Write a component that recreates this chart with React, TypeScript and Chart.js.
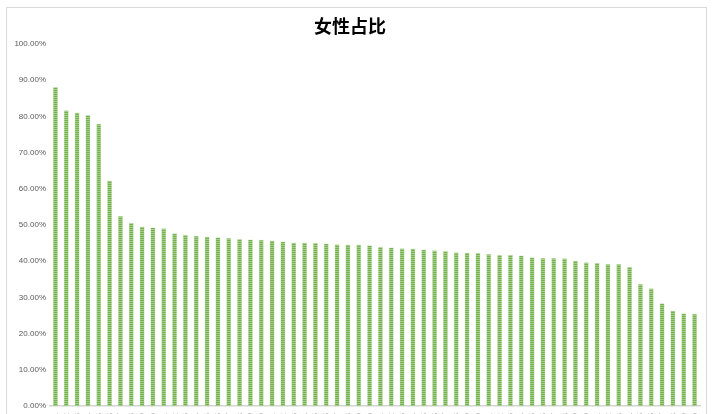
import React, { useEffect, useRef } from "react";
import { Chart, registerables } from "chart.js";

Chart.register(...registerables);

const TITLE = "女性占比";

const femaleShare: number[] = [
  88.15, 81.7, 81.1, 80.4, 78.0, 62.3, 52.5, 50.6, 49.6, 49.3,
  49.1, 47.7, 47.3, 47.0, 46.8, 46.6, 46.4, 46.1, 46.0, 45.9,
  45.7, 45.45, 45.2, 45.2, 45.1, 44.9, 44.7, 44.6, 44.6, 44.4,
  44.0, 43.8, 43.6, 43.5, 43.2, 43.0, 42.8, 42.5, 42.4, 42.3,
  42.0, 41.8, 41.8, 41.6, 41.1, 40.9, 40.9, 40.8, 40.2, 39.7,
  39.6, 39.2, 39.2, 38.5, 33.7, 32.5, 28.4, 26.4, 25.6, 25.5,
];

const categories: string[] = femaleShare.map((_, i) => "类别" + String(i + 1).padStart(2, "0"));

const yMin = 0;
const yMax = 100;
const yStep = 10;

function makePattern(): CanvasPattern | string {
  const c = document.createElement("canvas");
  c.width = 2;
  c.height = 2;
  const g = c.getContext("2d");
  if (!g) return "#8cbf6c";
  g.fillStyle = "#76b24f";
  g.fillRect(0, 0, 2, 1);
  g.fillStyle = "#a2cd86";
  g.fillRect(0, 1, 2, 1);
  const p = g.createPattern(c, "repeat");
  return p || "#8cbf6c";
}

export default function App() {
  const ref = useRef<HTMLCanvasElement | null>(null);

  useEffect(() => {
    document.body.style.margin = "0";
    document.body.style.overflow = "hidden";
    if (!ref.current) return;
    const pattern = makePattern();
    const chart = new Chart(ref.current, {
      type: "bar",
      data: {
        labels: categories,
        datasets: [
          {
            label: TITLE,
            data: femaleShare,
            backgroundColor: pattern as any,
            borderColor: "rgba(169,209,142,0.6)",
            borderWidth: 0.5,
            barPercentage: 0.46,
            categoryPercentage: 1,
          },
        ],
      },
      options: {
        animation: false,
        responsive: false,
        maintainAspectRatio: false,
        layout: { padding: { left: 0, right: 14, top: 0, bottom: 0 } },
        plugins: {
          legend: { display: false },
          tooltip: { enabled: false },
          title: {
            display: true,
            text: TITLE,
            color: "#000000",
            font: { family: "'Noto Sans CJK SC', sans-serif", size: 18, weight: "bold" },
            padding: { top: 15.5, bottom: 6.9 },
          },
        },
        scales: {
          x: {
            grid: { display: false, drawTicks: false },
            border: { display: true, color: "#d4d4d4", width: 1.5 },
            ticks: {
              autoSkip: false,
              minRotation: 90,
              maxRotation: 90,
              padding: 7,
              color: "#7f7f7f",
              font: { family: "'Noto Sans CJK SC', sans-serif", size: 8 },
            },
            afterFit: (s: any) => {
              s.height = 94;
            },
          },
          y: {
            min: yMin,
            max: yMax,
            grid: { display: false, drawTicks: false },
            border: { display: false },
            ticks: {
              stepSize: yStep,
              padding: 4,
              color: "#595959",
              font: { family: "'Liberation Sans', Arial, sans-serif", size: 8 },
              callback: (v: any) => Number(v).toFixed(2) + "%",
            },
            afterFit: (s: any) => {
              s.width = 50;
            },
          },
        },
      },
    });
    return () => chart.destroy();
  }, []);

  return (
    <div
      style={{
        position: "fixed",
        left: 0,
        top: 0,
        width: 714,
        height: 414,
        overflow: "hidden",
        background: "#ffffff",
      }}
    >
      <canvas
        ref={ref}
        width={714}
        height={500}
        style={{ position: "absolute", left: 0, top: 0, width: 714, height: 500 }}
      />
      <div
        style={{
          position: "absolute",
          left: 6,
          top: 7,
          width: 701,
          height: 520,
          border: "1px solid #d9d9d9",
          pointerEvents: "none",
          boxSizing: "border-box",
        }}
      />
    </div>
  );
}
